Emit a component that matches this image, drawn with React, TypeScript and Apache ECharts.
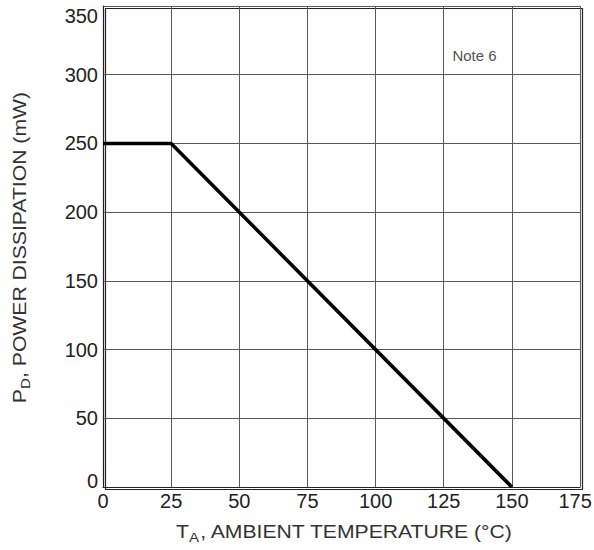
import React, { useEffect, useRef } from "react";
import * as echarts from "echarts";

const temperatures = [0, 25, 150];
const powerMw = [250, 250, 0];
const notePosition = [136.3, 314];
const noteText = "Note 6";

export default function App() {
  const ref = useRef<HTMLDivElement>(null);
  useEffect(() => {
    if (!ref.current) return;
    const chart = echarts.init(ref.current, null, { renderer: "svg" });
    const font = "Liberation Sans, Arial, sans-serif";
    const nameRich = {
      n: { fontSize: 17.5, fill: "#333", fontFamily: font },
      s: { fontSize: 12.5, fill: "#333", fontFamily: font, verticalAlign: "bottom", padding: [10, 0, 0, 0] },
    };
    chart.setOption({
      animation: false,
      grid: { left: 103, right: 14, top: 6, bottom: 63, containLabel: false, outerBoundsMode: "none" },
      xAxis: {
        type: "value",
        min: 0,
        max: 175,
        interval: 25,
        axisLine: { show: true, onZero: false, lineStyle: { color: "#222", width: 1.2 } },
        axisTick: { show: false },
        splitLine: { show: true, lineStyle: { color: "#5a5a5a", width: 1 } },
        axisLabel: {
          color: "#222",
          fontSize: 20,
          fontFamily: font,
          margin: 4,
          formatter: (v: number) => (v === 175 ? "{e|" + v + "}" : String(v)),
          rich: { e: { fontSize: 20, fontFamily: font, color: "#222", width: 43, align: "left" } },
        },
      },
      yAxis: {
        type: "value",
        min: 0,
        max: 350,
        interval: 50,
        axisLine: { show: true, lineStyle: { color: "#222", width: 1.2 } },
        axisTick: { show: false },
        splitLine: { show: true, lineStyle: { color: "#5a5a5a", width: 1 } },
        axisLabel: {
          color: "#222",
          fontSize: 20,
          fontFamily: font,
          margin: 5,
          verticalAlignMaxLabel: "top",
          formatter: (v: number) => (v === 0 ? "{z|0}" : String(v)),
          rich: { z: { fontSize: 20, fontFamily: font, color: "#222", padding: [0, 0, 12, 0] } },
        },
      },
      graphic: [
        {
          type: "rect",
          left: 103,
          top: 6,
          shape: { width: 477, height: 481 },
          style: { fill: "none", stroke: "#222", lineWidth: 1.2 },
          silent: true,
        },
        {
          type: "text",
          x: 344.5,
          y: 532,
          scaleX: 1.21,
          style: {
            text: "{n|T}{s|A}{n|, AMBIENT TEMPERATURE (°C)}",
            align: "center",
            verticalAlign: "middle",
            rich: nameRich,
          },
          silent: true,
        },
        {
          type: "text",
          x: 20,
          y: 247.5,
          rotation: Math.PI / 2,
          scaleX: 1.21,
          style: {
            text: "{n|P}{s|D}{n|, POWER DISSIPATION (mW)}",
            align: "center",
            verticalAlign: "middle",
            rich: nameRich,
          },
          silent: true,
        },
      ],
      series: [
        {
          type: "line",
          data: temperatures.map((t, i) => [t, powerMw[i]]),
          showSymbol: false,
          lineStyle: { color: "#000", width: 3.6 },
        },
        {
          type: "scatter",
          data: [notePosition],
          symbolSize: 0,
          label: {
            show: true,
            formatter: noteText,
            position: "inside",
            color: "#222",
            fontSize: 15,
            fontFamily: font,
          },
          silent: true,
        },
      ],
    });
    return () => chart.dispose();
  }, []);
  return <div ref={ref} style={{ position: "absolute", left: 0, top: 0, width: 594, height: 550 }} />;
}
